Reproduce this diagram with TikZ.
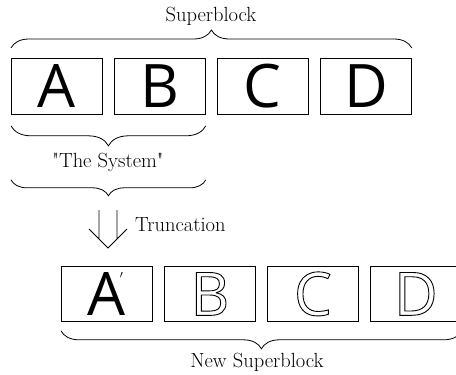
\documentclass[tikz,border=0pt]{standalone}
\usepackage{fontspec}
\usetikzlibrary{decorations.pathreplacing}
\newfontfamily\boxfont{Open Sans}
\newfontfamily\lblfont{Latin Modern Roman}
\newcommand{\hollow}[1]{\special{pdf:literal direct 1 Tr 0.9 w}#1\special{pdf:literal direct 0 Tr}}
\begin{document}
\begin{tikzpicture}[x=1pt,y=-1pt,
  blk/.style={draw, line width=0.8pt, minimum width=91pt, minimum height=56pt,
    inner sep=0pt, anchor=north west, font=\boxfont\fontsize{60}{60}\selectfont},
  lbl/.style={font=\lblfont\fontsize{20.5}{22}\selectfont, inner sep=0pt},
  brc/.style={decorate, decoration={brace, amplitude=#1}, line width=0.8pt},
  brc/.default=18pt,
  arrowline/.style={line width=0.8pt, line join=miter}]
\useasboundingbox (0,0) rectangle (456,375);
% top row
\node[blk] (a) at (11,58) {A};
\node[blk] (b) at (114,58) {B};
\node[blk] (c) at (217,58) {C};
\node[blk] (d) at (320,58) {D};
% superblock brace
\draw[brc] ([yshift=10pt]a.north west) -- ([yshift=10pt]d.north east);
\node[lbl] (sb) at (211,16) {Superblock};
% system braces
\draw[brc=20pt] ([yshift=-11pt]b.south east) -- ([yshift=-11pt]a.south west);
\node[lbl] (sys) at (108,162) {"The System"};
\draw[brc=16pt] ([yshift=-65pt]b.south east) -- ([yshift=-65pt]a.south west);
% truncation arrow
\coordinate (s1) at (99,210);
\coordinate (s2) at (117,210);
\coordinate (tip) at (108,248);
\draw[arrowline] (s1) -- (99,239) (s2) -- (117,239)
  (89,229) -- (tip) -- (127,229);
\node[lbl, anchor=west] (tr) at (135,225) {Truncation};
% bottom row
\node[blk, minimum height=55pt] (a2) at (61,266)
  {A\rlap{\kern-6pt\raisebox{37pt}{\fontsize{11}{11}\selectfont$\prime$}}};
\node[blk, minimum height=55pt] (b2) at (164,266) {\hollow{B}};
\node[blk, minimum height=55pt] (c2) at (267,266) {\hollow{C}};
\node[blk, minimum height=55pt] (d2) at (370,266) {\hollow{D}};
\draw[brc] ([yshift=-9pt]d2.south east) -- ([yshift=-9pt]a2.south west);
\node[lbl] (nsb) at (257,362) {New Superblock};
\end{tikzpicture}
\end{document}
